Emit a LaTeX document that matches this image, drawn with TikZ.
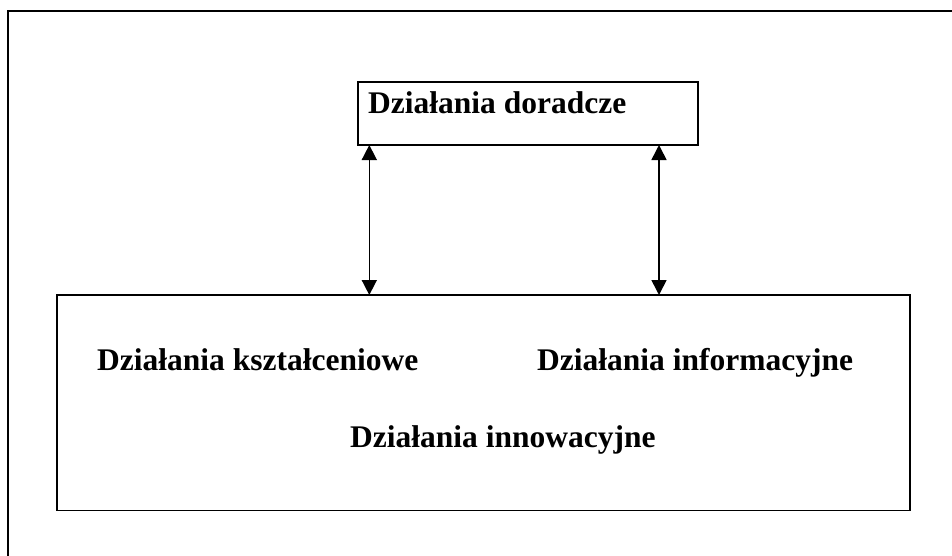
\documentclass[tikz,border=0pt]{standalone}
\usepackage{fontspec}
\setmainfont{Liberation Serif}
\usetikzlibrary{arrows.meta}
\begin{document}
\begin{tikzpicture}[x=1pt,y=-1pt,
  box/.style={draw=black, line width=1.7pt, rectangle, inner sep=0pt, outer sep=0pt, fill=none},
  lbl/.style={font=\fontsize{31.5}{38}\selectfont\bfseries, inner sep=0pt, anchor=base west},
  link/.style={line width=1.6pt, {Triangle[length=15pt,width=15pt]}-{Triangle[length=15pt,width=15pt]}}]
\useasboundingbox (0,0) rectangle (952,555);
\clip (0,0) rectangle (952,555);
% outer frame (right and bottom edges lie outside the page)
\draw[line width=2pt] (7.5,575) -- (7.5,11) -- (975,11) -- (975,575) -- cycle;
% boxes
\node[box, minimum width=340pt, minimum height=63pt] (top) at (528,113.5) {};
\node[box, minimum width=853pt, minimum height=215.5pt] (big) at (483.5,402.75) {};
% texts
\node[lbl] (tdor) at (368,113) {Działania doradcze};
\node[lbl] (tksz) at (97,370) {Działania kształceniowe};
\node[lbl] (tinf) at (537,370) {Działania informacyjne};
\node[lbl] (tinn) at (350,447) {Działania innowacyjne};
% connectors
\coordinate (a1) at (369.3,0);
\coordinate (a2) at (659,0);
\draw[link] (a1 |- top.south) -- (a1 |- big.north);
\draw[link] (a2 |- top.south) -- (a2 |- big.north);
\end{tikzpicture}
\end{document}
